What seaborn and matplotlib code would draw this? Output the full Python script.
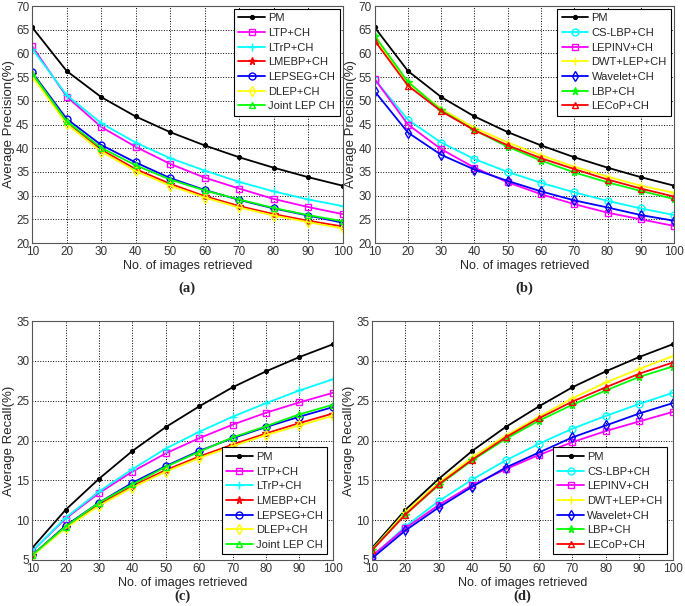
import numpy as np
import pandas as pd
import matplotlib
matplotlib.use("Agg")
import matplotlib.pyplot as plt
import seaborn as sns

sns.set_style("white")
plt.rcParams['font.family'] = ['Liberation Sans', 'DejaVu Sans']

x = [10, 20, 30, 40, 50, 60, 70, 80, 90, 100]

# precision (a)
prec_pm = [65.5, 56.3, 50.8, 46.7, 43.4, 40.6, 38.1, 35.9, 33.9, 32.1]
prec_ltp = [61.5, 50.9, 44.5, 40.3, 36.7, 33.8, 31.5, 29.3, 27.6, 26.1]
prec_ltrp = [61.0, 51.2, 45.3, 41.2, 37.9, 35.3, 32.9, 30.9, 29.2, 27.8]
prec_lmebp = [55.6, 45.5, 39.7, 35.6, 32.5, 29.9, 27.8, 26.1, 24.7, 23.5]
prec_lepseg = [56.0, 46.2, 40.7, 37.0, 33.7, 31.2, 29.1, 27.3, 25.8, 24.3]
prec_dlep = [55.2, 45.1, 39.3, 35.2, 32.1, 29.6, 27.5, 25.8, 24.4, 23.1]
prec_joint = [55.8, 45.7, 40.1, 36.4, 33.4, 31.1, 29.2, 27.4, 25.9, 24.6]

# precision (b)
prec_cslbp = [54.5, 46.0, 41.2, 37.7, 35.0, 32.7, 30.7, 28.9, 27.3, 25.9]
prec_lepinv = [54.6, 45.0, 39.8, 35.9, 32.8, 30.3, 28.2, 26.4, 25.0, 23.6]
prec_dwt = [63.0, 53.8, 48.3, 44.3, 41.2, 38.5, 36.1, 34.0, 32.1, 30.6]
prec_wavelet = [52.0, 43.3, 38.6, 35.5, 33.1, 30.9, 29.0, 27.5, 25.9, 24.7]
prec_lbp = [63.7, 54.0, 48.0, 43.8, 40.3, 37.4, 34.9, 32.8, 31.0, 29.3]
prec_lecop = [62.7, 53.2, 47.8, 43.8, 40.6, 37.9, 35.6, 33.4, 31.5, 29.8]

# recall (c)
rec_pm = [6.5, 11.3, 15.2, 18.7, 21.7, 24.3, 26.7, 28.7, 30.5, 32.1]
rec_ltp = [6.1, 10.2, 13.4, 16.1, 18.4, 20.3, 22.0, 23.5, 24.8, 26.0]
rec_ltrp = [6.1, 10.3, 13.6, 16.4, 19.0, 21.1, 23.0, 24.7, 26.3, 27.7]
rec_lmebp = [5.6, 9.1, 12.0, 14.3, 16.3, 18.0, 19.5, 20.9, 22.2, 23.4]
rec_lepseg = [5.6, 9.3, 12.2, 14.7, 16.8, 18.7, 20.3, 21.7, 23.0, 24.2]
rec_dlep = [5.5, 9.0, 11.8, 14.1, 16.1, 17.8, 19.3, 20.7, 21.9, 23.1]
rec_joint = [5.6, 9.2, 12.2, 14.5, 16.7, 18.6, 20.4, 21.8, 23.3, 24.5]

# recall (d)
rec_cslbp = [5.4, 9.2, 12.4, 15.1, 17.5, 19.6, 21.5, 23.1, 24.6, 26.0]
rec_lepinv = [5.5, 9.0, 11.9, 14.4, 16.4, 18.2, 19.8, 21.2, 22.4, 23.6]
rec_dwt = [6.3, 11.0, 14.7, 17.9, 20.6, 23.0, 25.3, 27.3, 29.0, 30.6]
rec_wavelet = [5.2, 8.7, 11.6, 14.2, 16.6, 18.5, 20.4, 21.9, 23.4, 24.7]
rec_lbp = [6.3, 10.7, 14.4, 17.5, 20.2, 22.5, 24.5, 26.3, 28.0, 29.3]
rec_lecop = [6.2, 10.7, 14.5, 17.6, 20.4, 22.8, 24.9, 26.7, 28.4, 29.8]

names_1 = ["PM", "LTP+CH", "LTrP+CH", "LMEBP+CH", "LEPSEG+CH", "DLEP+CH", "Joint LEP CH"]
colors_1 = ["black", "magenta", "cyan", "red", "blue", "yellow", "lime"]
markers_1 = [".", "s", "+", "*", "o", "d", "^"]

names_2 = ["PM", "CS-LBP+CH", "LEPINV+CH", "DWT+LEP+CH", "Wavelet+CH", "LBP+CH", "LECoP+CH"]
colors_2 = ["black", "cyan", "magenta", "yellow", "blue", "lime", "red"]
markers_2 = [".", "o", "s", "+", "d", "*", "^"]

panels = [
    ([0.047, 0.599, 0.453, 0.391], names_1, colors_1, markers_1,
     [prec_pm, prec_ltp, prec_ltrp, prec_lmebp, prec_lepseg, prec_dlep, prec_joint],
     "Average Precision(%)", (20, 70), "upper right", "(a)", 0.524),
    ([0.547, 0.599, 0.437, 0.391], names_2, colors_2, markers_2,
     [prec_pm, prec_cslbp, prec_lepinv, prec_dwt, prec_wavelet, prec_lbp, prec_lecop],
     "Average Precision(%)", (20, 70), "upper right", "(b)", 0.524),
    ([0.047, 0.076, 0.439, 0.394], names_1, colors_1, markers_1,
     [rec_pm, rec_ltp, rec_ltrp, rec_lmebp, rec_lepseg, rec_dlep, rec_joint],
     "Average Recall(%)", (5, 35), "lower right", "(c)", 0.016),
    ([0.543, 0.076, 0.439, 0.394], names_2, colors_2, markers_2,
     [rec_pm, rec_cslbp, rec_lepinv, rec_dwt, rec_wavelet, rec_lbp, rec_lecop],
     "Average Recall(%)", (5, 35), "lower right", "(d)", 0.016),
]

fig = plt.figure(figsize=(6.85, 6.06), dpi=100)

for rect, names, colors, markers, series, ylab, ylim, loc, tag, tag_y in panels:
    ax = fig.add_axes(rect)
    for name, col, mk, vals in zip(names, colors, markers, series):
        df = pd.DataFrame({"n": x, "v": vals})
        hollow = mk in ["s", "o", "d", "^"]
        sns.lineplot(data=df, x="n", y="v", ax=ax, color=col, marker=mk,
                     markersize=5 if hollow else 5.5,
                     markerfacecolor="none" if hollow else col,
                     markeredgecolor=col, markeredgewidth=1.0, linewidth=1.3, label=name)
    ax.set_xlim(10, 100)
    ax.set_ylim(*ylim)
    ax.set_xticks(x)
    ax.set_yticks(np.arange(ylim[0], ylim[1] + 1, 5))
    ax.grid(True, color="black", linestyle=":", linewidth=0.7)
    for s in ax.spines.values():
        s.set_color("#555555")
        s.set_linewidth(0.8)
    ax.tick_params(labelsize=8.5, length=2, direction="in", pad=2, colors="#333333")
    ax.set_xlabel("No. of images retrieved", fontsize=9, labelpad=1.5)
    ax.set_ylabel(ylab, fontsize=9.5, labelpad=1)
    leg = ax.legend(loc=loc, fontsize=8, handlelength=2.4, borderpad=0.4,
                    labelspacing=0.42, handletextpad=0.3, fancybox=False,
                    framealpha=1, borderaxespad=0.5 if loc == "lower right" else 0.25)
    leg.get_frame().set_edgecolor("black")
    leg.get_frame().set_linewidth(0.8)
    fig.text(rect[0] + rect[2] / 2, tag_y, tag, ha="center", va="center",
             fontsize=10.5, fontweight="bold", family="Liberation Serif")

plt.savefig("out.png", dpi=100)
